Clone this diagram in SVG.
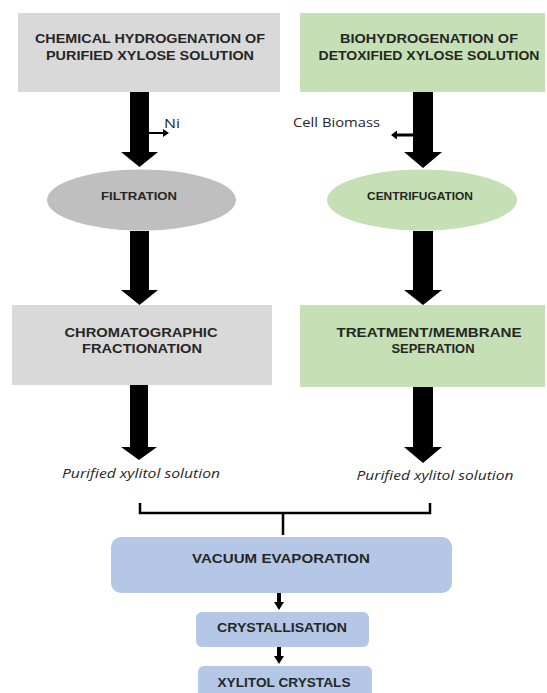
<svg xmlns="http://www.w3.org/2000/svg" width="547" height="693" viewBox="0 0 547 693">
<style>
.t{font-family:"Liberation Sans",Arial,sans-serif;font-weight:bold;fill:#262626;text-anchor:middle}
.big{font-size:13px}
.sm{font-size:10.5px}
.it{font-family:"Open Sans","Liberation Sans",sans-serif;font-style:italic;font-size:12px;fill:#262626;text-anchor:middle}
.lab{font-family:"Open Sans","Liberation Sans",sans-serif;font-size:12.5px;fill:#262626}
.gray{fill:#d9d9d9}
.green{fill:#c5e0b4}
.blue{fill:#b4c7e7}
</style>
<rect width="547" height="693" fill="#ffffff"/>
<g id="chem-hydrogenation">
<rect class="gray" x="18" y="13" width="262" height="79"/>
<text class="t big" x="150" y="43" textLength="230" lengthAdjust="spacingAndGlyphs">CHEMICAL HYDROGENATION OF</text>
<text class="t big" x="150" y="60" textLength="208" lengthAdjust="spacingAndGlyphs">PURIFIED XYLOSE SOLUTION</text>
</g>
<g id="biohydrogenation">
<rect class="green" x="300" y="13" width="245" height="79"/>
<text class="t big" x="429" y="43" textLength="178" lengthAdjust="spacingAndGlyphs">BIOHYDROGENATION OF</text>
<text class="t big" x="429" y="60" textLength="221" lengthAdjust="spacingAndGlyphs">DETOXIFIED XYLOSE SOLUTION</text>
</g>
<g id="filtration">
<ellipse cx="141.5" cy="200" rx="94.5" ry="30.5" fill="#bfbfbf"/>
<text class="t sm" x="139" y="200" textLength="76" lengthAdjust="spacingAndGlyphs">FILTRATION</text>
</g>
<g id="centrifugation">
<ellipse cx="422" cy="200" rx="95" ry="30.5" class="green"/>
<text class="t sm" x="420" y="200" textLength="106" lengthAdjust="spacingAndGlyphs">CENTRIFUGATION</text>
</g>
<g id="chromatographic">
<rect class="gray" x="12" y="305" width="260" height="80"/>
<text class="t big" x="141" y="337" textLength="153" lengthAdjust="spacingAndGlyphs">CHROMATOGRAPHIC</text>
<text class="t big" x="142" y="353" textLength="120" lengthAdjust="spacingAndGlyphs">FRACTIONATION</text>
</g>
<g id="membrane">
<rect class="green" x="300" y="305" width="245" height="82"/>
<text class="t big" x="429" y="337" textLength="185" lengthAdjust="spacingAndGlyphs">TREATMENT/MEMBRANE</text>
<text class="t big" x="433" y="353" textLength="83" lengthAdjust="spacingAndGlyphs">SEPERATION</text>
</g>
<g id="purified-left">
<text class="it" x="141" y="478" textLength="158" lengthAdjust="spacingAndGlyphs">Purified xylitol solution</text>
</g>
<g id="purified-right">
<text class="it" x="435" y="480" textLength="157" lengthAdjust="spacingAndGlyphs">Purified xylitol solution</text>
</g>
<g id="vacuum-evaporation">
<rect class="blue" x="111" y="537" width="341" height="56" rx="10"/>
<text class="t big" x="281" y="563" textLength="178" lengthAdjust="spacingAndGlyphs">VACUUM EVAPORATION</text>
</g>
<g id="crystallisation">
<rect class="blue" x="196" y="612" width="173" height="35" rx="6"/>
<text class="t big" x="282" y="632" textLength="130" lengthAdjust="spacingAndGlyphs">CRYSTALLISATION</text>
</g>
<g id="xylitol-crystals">
<rect class="blue" x="198" y="666" width="174" height="40" rx="6"/>
<text class="t big" x="284" y="687" textLength="133" lengthAdjust="spacingAndGlyphs">XYLITOL CRYSTALS</text>
</g>
<g id="connectors" fill="#000000">
<polygon points="130,92 149,92 149,152 158,152 139.5,167 121,152 130,152"/>
<polygon points="413,92 433,92 433,152 442,152 423,168 404,152 413,152"/>
<polygon points="130,231 149,231 149,290 158,290 139.5,305 121,290 130,290"/>
<polygon points="413,231 433,231 433,290 442,290 423,305 404,290 413,290"/>
<polygon points="130,385 148,385 148,447 157,447 139,460 121,447 130,447"/>
<polygon points="413,387 433,387 433,447 442,447 423,463 404,447 413,447"/>
<polygon points="149,132 163,132 163,129 169,133 163,137 163,134 149,134"/>
<polygon points="413,133.5 397,133.5 397,130.5 391,135 397,139.5 397,136.5 413,136.5"/>
<polygon points="277,593 281,593 281,602 284,602 279,610 274,602 277,602"/>
<polygon points="277,647 281,647 281,656 284,656 279,664 274,656 277,656"/>
<path d="M140,503 V513 H430 V503 M283,513 V535" fill="none" stroke="#000" stroke-width="2.5"/>
</g>
<text class="lab" x="164" y="128" textLength="16" lengthAdjust="spacingAndGlyphs">Ni</text>
<text class="lab" x="293" y="127" textLength="87" lengthAdjust="spacingAndGlyphs">Cell Biomass</text>
</svg>
